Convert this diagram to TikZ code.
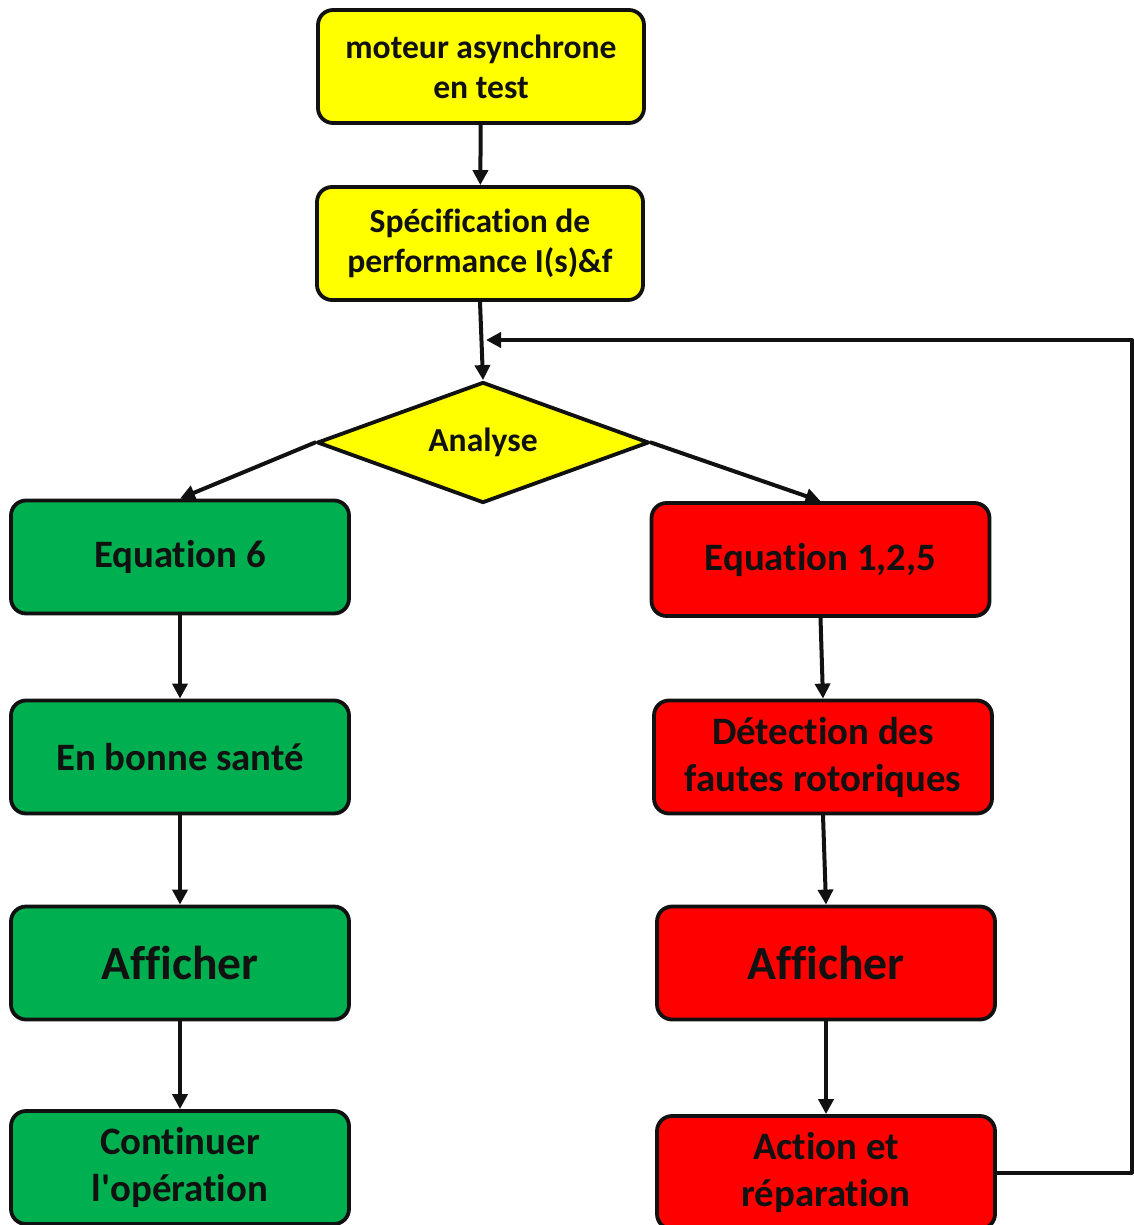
\documentclass[tikz,border=0pt]{standalone}
\usepackage{fontspec}
\setmainfont{Carlito}[Ligatures={NoCommon}]
\usepackage{tikz}
\usetikzlibrary{arrows.meta,positioning,calc,shapes.geometric}
\definecolor{boxyellow}{HTML}{FFFF00}
\definecolor{boxgreen}{HTML}{00B050}
\definecolor{boxred}{HTML}{FF0000}
\definecolor{ink}{HTML}{111111}
\tikzset{
    every picture/.style={line cap=round,line join=round},
    flownode/.style={draw=ink,line width=1.9pt,rounded corners=7.5pt,
      minimum width=169pt,minimum height=56.5pt,inner sep=2pt,
      font=\fontsize{19.4}{23.5}\selectfont\bfseries,align=center,text=ink},
    startnode/.style={flownode,fill=boxyellow,minimum width=163pt,
      font=\fontsize{16.8}{20}\selectfont\bfseries},
    oknode/.style={flownode,fill=boxgreen},
    faultnode/.style={flownode,fill=boxred},
    bigtext/.style={font=\fontsize{23.8}{28}\selectfont\bfseries},
    decisionnode/.style={diamond,draw=ink,fill=boxyellow,line width=1.9pt,
      minimum width=166pt,minimum height=60.5pt,aspect=2.75,inner sep=0pt,
      font=\fontsize{16.8}{20}\selectfont\bfseries,text=ink},
    flowarrow/.style={-{Triangle[length=7.5pt,width=7.5pt]},draw=ink,
      line width=2pt}
}
\begin{document}
\begin{tikzpicture}[x=0.5pt,y=-0.5pt]
  \clip (0,0) rectangle (1134,1225);
  % top of the chart
  \node[startnode] (motor) at (481,66.5) {moteur asynchrone\\en test};
  \node[startnode] (spec) at (480,243.5) {Spécification de\\performance I(s)\&f};
  \node[decisionnode] (ana) at (483,442.5) {Analyse};
  \coordinate (merge) at (486,340);
  \coordinate (loopc) at (1132,340);
  % healthy branch
  \node[oknode] (eqsix) at (180,557) {Equation 6};
  \node[oknode] (health) at (180,757) {En bonne santé};
  \node[oknode,bigtext] (showok) at (180,963) {Afficher};
  \node[oknode] (cont) at (180,1167.5) {Continuer\\l\textquotesingle opération};
  % faulty branch
  \node[faultnode] (eqfault) at (820.5,559.5) {Equation 1,2,5};
  \node[faultnode] (detect) at (823,757) {Détection des\\fautes rotoriques};
  \node[faultnode,bigtext] (showko) at (826,963) {Afficher};
  \node[faultnode] (act) at (826,1172.5) {Action et\\réparation};
  % connectors
  \draw[flowarrow] (motor) -- (spec);
  \draw[flowarrow] (spec.south) -- (ana.north);
  \draw[flowarrow] (ana.west) -- (eqsix.north);
  \draw[flowarrow] (ana.east) -- (eqfault.north);
  \draw[flowarrow] (eqsix) -- (health);
  \draw[flowarrow] (health) -- (showok);
  \draw[flowarrow] (showok) -- (cont);
  \draw[flowarrow] (eqfault.south) -- (detect.north);
  \draw[flowarrow] (detect.south) -- (showko.north);
  \draw[flowarrow] (showko) -- (act);
  \draw[flowarrow,line cap=butt] (act.east) -| (loopc) -- (merge);
\end{tikzpicture}
\end{document}
